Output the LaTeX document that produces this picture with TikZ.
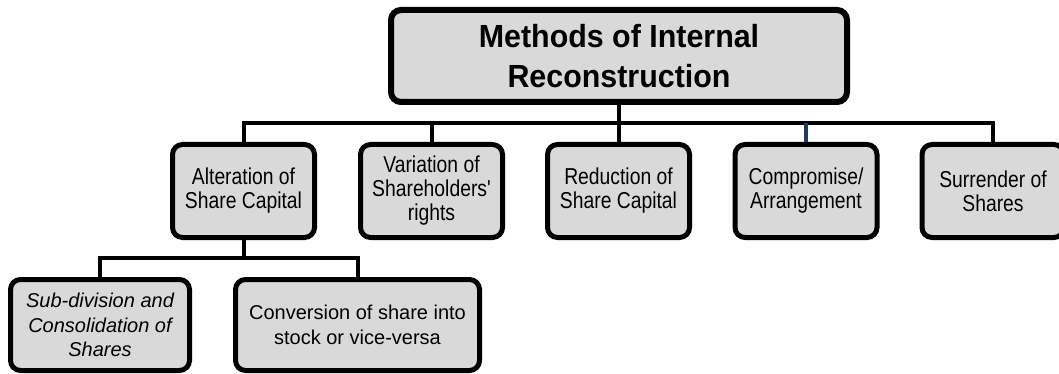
\documentclass[tikz,border=0pt]{standalone}
\usepackage{fontspec}
\setmainfont{Liberation Sans}
\newfontfamily\titlefont{Liberation Sans}[FakeStretch=0.95]
\newfontfamily\narrowfont{Liberation Sans}[FakeStretch=0.84]
\begin{document}
\begin{tikzpicture}[x=1pt,y=-1pt,
  box/.style={draw=black, fill=boxgray, rounded corners=10pt, line width=5pt,
    align=center, inner sep=0pt},
  titlebox/.style={box, line width=6pt, font=\titlefont\fontsize{32}{40}\selectfont\bfseries},
  midbox/.style={box, minimum width=142pt, minimum height=93pt,
    font=\narrowfont\fontsize{23}{24}\selectfont},
  lowbox/.style={box, minimum height=91pt, font=\fontsize{20}{24.5}\selectfont},
  link/.style={draw=black, line width=4pt, line join=miter},
]
\definecolor{boxgray}{HTML}{D9D9D9}
\definecolor{navy}{HTML}{1F3A66}
\useasboundingbox (0,0) rectangle (1059,374);

% positions of the two horizontal buses
\coordinate (bus) at (619,123);
\coordinate (bus2) at (243.5,258);

% boxes
\node[titlebox, minimum width=456pt, minimum height=92pt] (top) at (619,56) {Methods of Internal\\Reconstruction};
\node[midbox] (alt) at (243.5,191) {Alteration of\\Share Capital};
\node[midbox] (var) at (431.5,191) {Variation of\\Shareholders'\\rights};
\node[midbox] (red) at (618.5,191) {Reduction of\\Share Capital};
\node[midbox] (comp) at (806,191) {Compromise/\\Arrangement};
\node[midbox] (sur) at (993,191) {Surrender of\\Shares};
\node[lowbox, minimum width=179pt] (sub) at (100,325) {\itshape Sub-division and\\\itshape Consolidation of\\\itshape Shares};
\node[lowbox, minimum width=244pt] (conv) at (357.5,325) {Conversion of share into\\stock or vice-versa};

% first level of links
\path[link] (top.south) -- (bus);
\path[link] (alt.north) |- (bus) -| (sur.north);
\path[link] (var.north) -- (var.north |- bus);
\path[link] (red.north) -- (red.north |- bus);
\path[link, draw=navy] (comp.north) -- (comp.north |- bus);

% second level of links
\path[link] (alt.south) -- (bus2);
\path[link] (sub.north) |- (bus2) -| (conv.north);
\end{tikzpicture}
\end{document}
